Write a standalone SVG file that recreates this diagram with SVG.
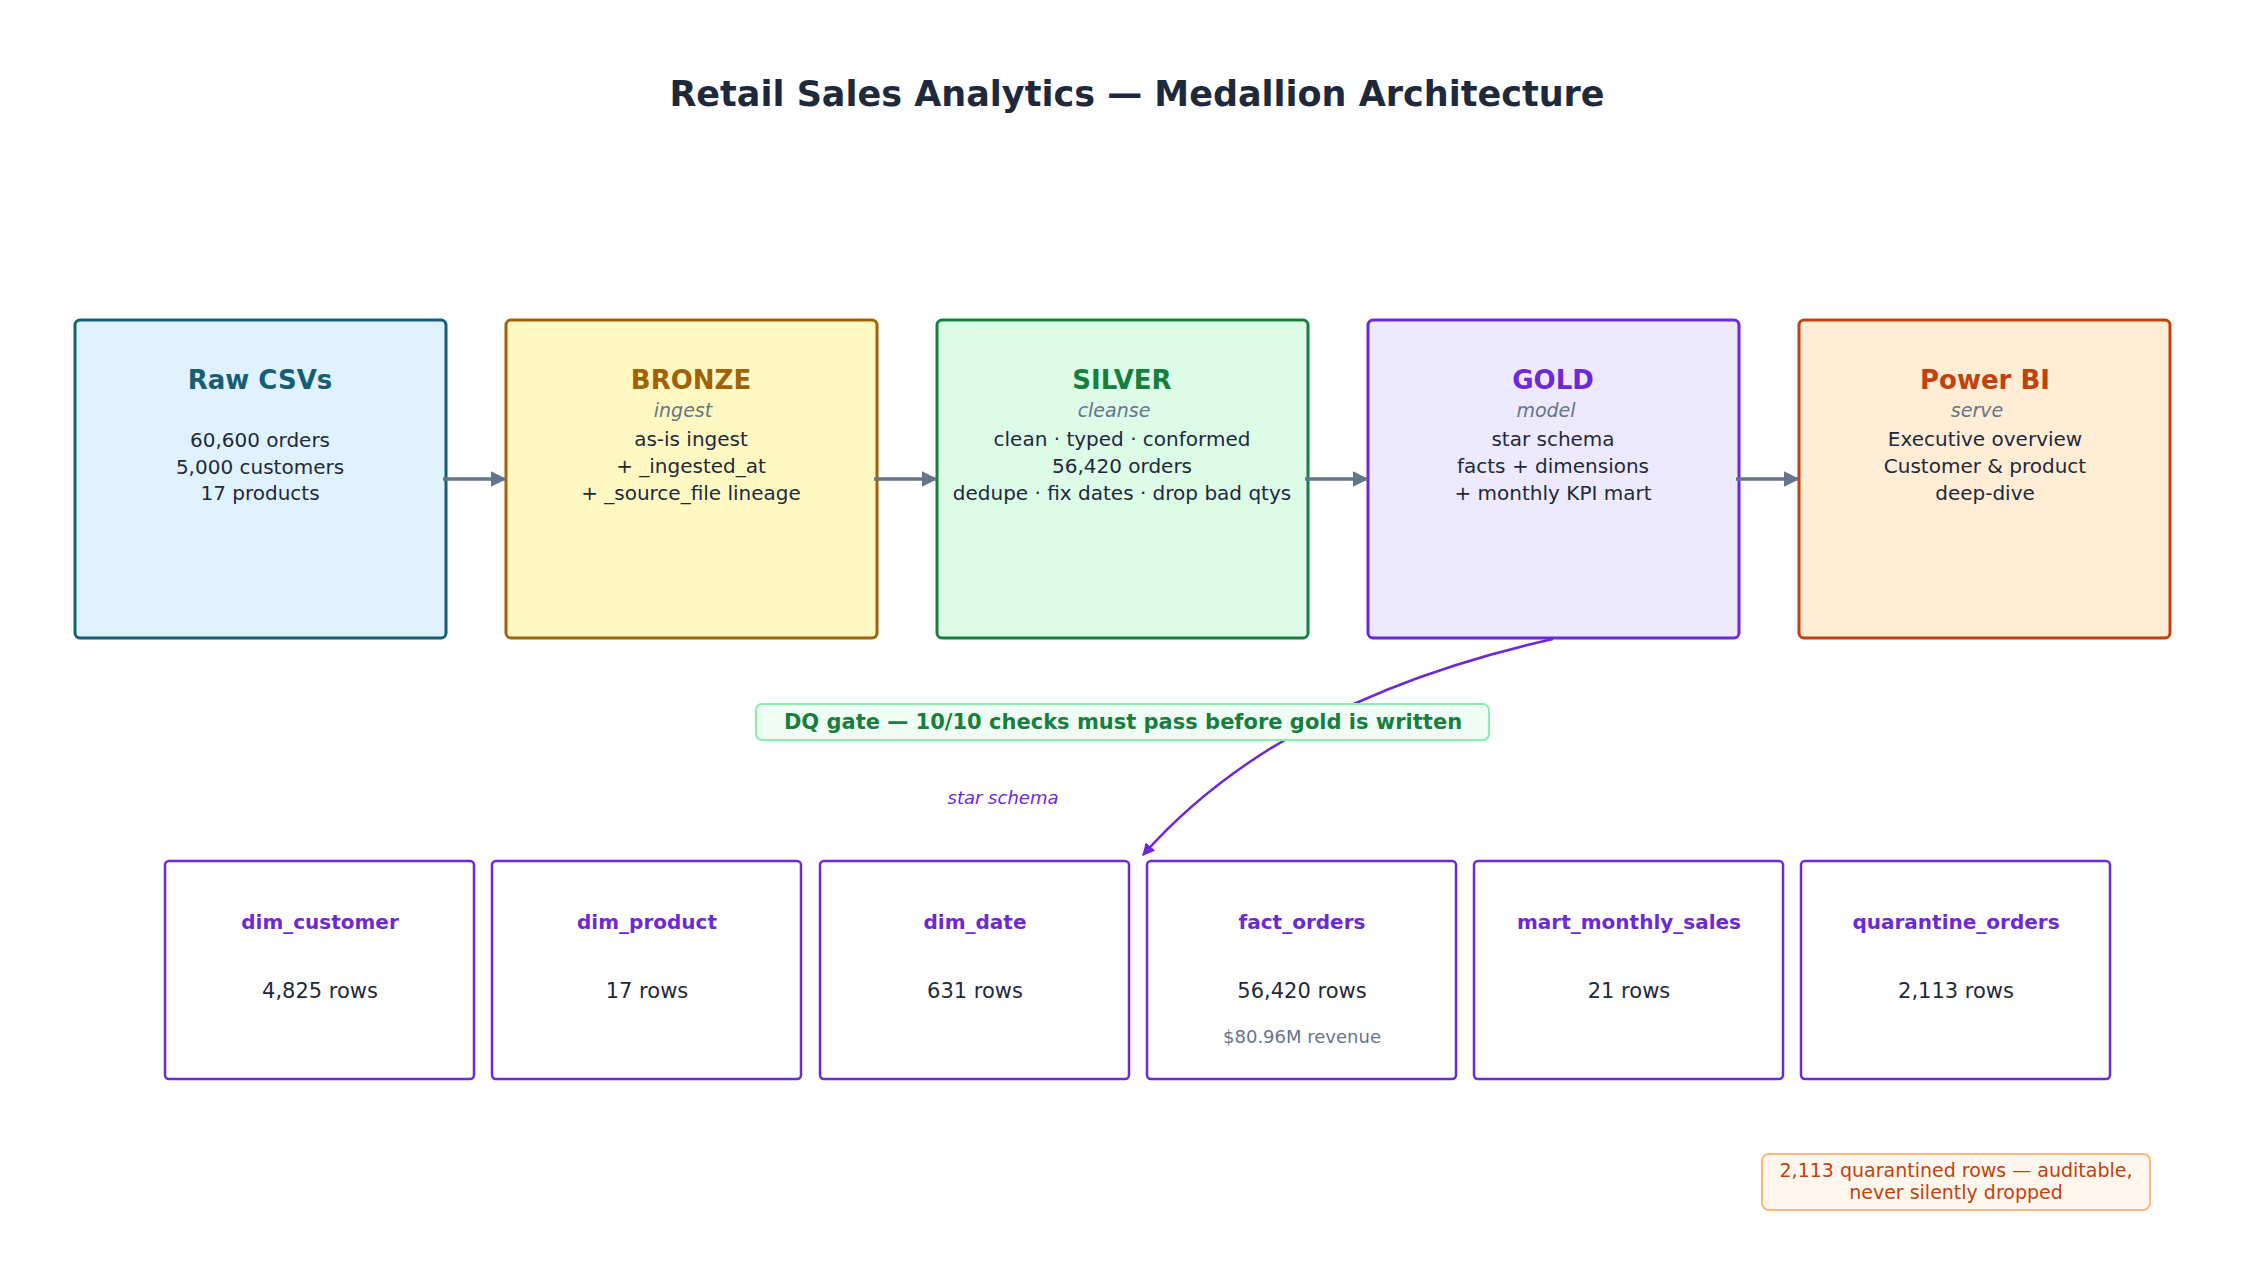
<svg xmlns="http://www.w3.org/2000/svg" width="2250" height="1275" viewBox="0 0 2250 1275">
<defs>
<marker id="ah" viewBox="0 0 10 10" refX="9" refY="5" markerWidth="4.5" markerHeight="4.5" orient="auto"><path d="M0,0 L10,5 L0,10 z" fill="#64748b"/></marker>
<marker id="ap" viewBox="0 0 10 10" refX="9" refY="5" markerWidth="5" markerHeight="5" orient="auto"><path d="M0,0 L10,5 L0,10 z" fill="#6d28d9"/></marker>
<style>
text{font-family:"DejaVu Sans","Noto Sans",sans-serif;text-anchor:middle}
.t{font-size:26px;font-weight:bold}
.s{font-size:19px;font-style:italic;fill:#64748b}
.b{font-size:20px;fill:#1e293b}
.box{stroke-width:3}
.tb{fill:#fff;stroke:#6d28d9;stroke-width:2.5}
.tt{font-size:20px;font-weight:bold;fill:#6d28d9}
.tr{font-size:21px;fill:#1e293b}
</style>
</defs>
<rect width="2250" height="1275" fill="#fff"/>
<text x="1137" y="106" style="font-size:35px;font-weight:bold;fill:#1e293b">Retail Sales Analytics — Medallion Architecture</text>
<g id="raw"><rect class="box" x="75" y="320" width="371" height="318" rx="5" fill="#e0f2fe" stroke="#155e75"/>
<text class="t" x="260" y="389" fill="#155e75">Raw CSVs</text>
<text class="b" x="260" y="447">60,600 orders</text><text class="b" x="260" y="474">5,000 customers</text><text class="b" x="260" y="500">17 products</text></g>
<g id="bronze"><rect class="box" x="506" y="320" width="371" height="318" rx="5" fill="#fef9c3" stroke="#a16207"/>
<text class="t" x="691" y="389" fill="#a16207">BRONZE</text><text class="s" x="683" y="417">ingest</text>
<text class="b" x="691" y="446">as-is ingest</text><text class="b" x="691" y="473">+ _ingested_at</text><text class="b" x="691" y="500">+ _source_file lineage</text></g>
<g id="silver"><rect class="box" x="937" y="320" width="371" height="318" rx="5" fill="#dcfce7" stroke="#15803d"/>
<text class="t" x="1122" y="389" fill="#15803d">SILVER</text><text class="s" x="1114" y="417">cleanse</text>
<text class="b" x="1122" y="446">clean · typed · conformed</text><text class="b" x="1122" y="473">56,420 orders</text><text class="b" x="1122" y="500">dedupe · fix dates · drop bad qtys</text></g>
<g id="gold"><rect class="box" x="1368" y="320" width="371" height="318" rx="5" fill="#ede9fe" stroke="#6d28d9"/>
<text class="t" x="1553" y="389" fill="#6d28d9">GOLD</text><text class="s" x="1546" y="417">model</text>
<text class="b" x="1553" y="446">star schema</text><text class="b" x="1553" y="473">facts + dimensions</text><text class="b" x="1553" y="500">+ monthly KPI mart</text></g>
<g id="powerbi"><rect class="box" x="1799" y="320" width="371" height="318" rx="5" fill="#ffedd5" stroke="#c2410c"/>
<text class="t" x="1985" y="389" fill="#c2410c">Power BI</text><text class="s" x="1977" y="417">serve</text>
<text class="b" x="1985" y="446">Executive overview</text><text class="b" x="1985" y="473">Customer &amp; product</text><text class="b" x="1985" y="500">deep-dive</text></g>
<g id="connectors" fill="none" stroke-width="3.5" stroke="#64748b">
<line x1="443" y1="479" x2="505" y2="479" marker-end="url(#ah)"/>
<line x1="874" y1="479" x2="936" y2="479" marker-end="url(#ah)"/>
<line x1="1305" y1="479" x2="1367" y2="479" marker-end="url(#ah)"/>
<line x1="1736" y1="479" x2="1798" y2="479" marker-end="url(#ah)"/>
<path d="M1553,639 Q1280,700 1143,855" stroke="#6d28d9" stroke-width="2.5" marker-end="url(#ap)"/>
</g>
<g id="dq"><rect x="756" y="704" width="733" height="36" rx="6" fill="#f0fdf4" stroke="#86efac" stroke-width="2"/>
<text x="1123" y="729" style="font-size:21px;font-weight:bold;fill:#15803d">DQ gate — 10/10 checks must pass before gold is written</text></g>
<text x="1003" y="804" style="font-size:18px;font-style:italic;fill:#6d28d9">star schema</text>
<g id="dim_customer"><rect class="tb" x="165" y="861" width="309" height="218" rx="4"/><text class="tt" x="320" y="929">dim_customer</text><text class="tr" x="320" y="998">4,825 rows</text></g>
<g id="dim_product"><rect class="tb" x="492" y="861" width="309" height="218" rx="4"/><text class="tt" x="647" y="929">dim_product</text><text class="tr" x="647" y="998">17 rows</text></g>
<g id="dim_date"><rect class="tb" x="820" y="861" width="309" height="218" rx="4"/><text class="tt" x="975" y="929">dim_date</text><text class="tr" x="975" y="998">631 rows</text></g>
<g id="fact_orders"><rect class="tb" x="1147" y="861" width="309" height="218" rx="4"/><text class="tt" x="1302" y="929">fact_orders</text><text class="tr" x="1302" y="998">56,420 rows</text><text x="1302" y="1043" style="font-size:18px;fill:#64748b">$80.96M revenue</text></g>
<g id="mart_monthly_sales"><rect class="tb" x="1474" y="861" width="309" height="218" rx="4"/><text class="tt" x="1629" y="929">mart_monthly_sales</text><text class="tr" x="1629" y="998">21 rows</text></g>
<g id="quarantine_orders"><rect class="tb" x="1801" y="861" width="309" height="218" rx="4"/><text class="tt" x="1956" y="929">quarantine_orders</text><text class="tr" x="1956" y="998">2,113 rows</text></g>
<g id="note"><rect x="1762" y="1154" width="388" height="56" rx="7" fill="#fff7ed" stroke="#fdba74" stroke-width="2"/>
<text x="1956" y="1177" style="font-size:19px;fill:#c2410c">2,113 quarantined rows — auditable,</text>
<text x="1956" y="1199" style="font-size:19px;fill:#c2410c">never silently dropped</text></g>
</svg>
